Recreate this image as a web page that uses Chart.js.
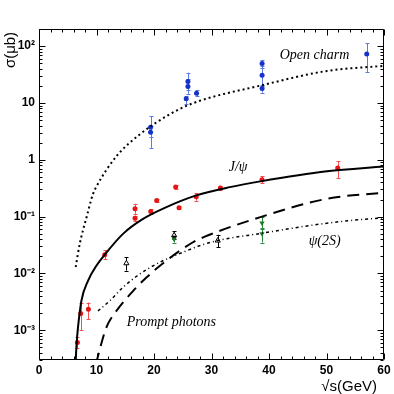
<!DOCTYPE html>
<html><head><meta charset="utf-8">
<script src="https://cdn.jsdelivr.net/npm/chart.js@4/dist/chart.umd.min.js"></script>
<style>html,body{margin:0;padding:0;background:#fff;}canvas{display:block;}</style>
</head><body>
<canvas id="c" width="394" height="394"></canvas>
<script>
// ---- tick labels ----
const xTickValues = [0, 10, 20, 30, 40, 50, 60];
const xTickLabels = ['0', '10', '20', '30', '40', '50', '60'];
const yTickValues = [1e-3, 1e-2, 1e-1, 1, 10, 100];
const yTickLabels = ['10\u207B\u00B3', '10\u207B\u00B2', '10\u207B\u00B9', '1', '10', '10\u00B2'];

// ---- theory curves ----
const charmCurveX = [6.38, 7.08, 8.24, 9.39, 10.0, 13.46, 17.51, 22.73, 26.9, 38.78, 50.09, 60];
const charmCurveY = [0.013, 0.033, 0.095, 0.25, 0.34, 1.15, 2.79, 6.3, 10, 20.5, 36.6, 45];
const jpsiCurveX = [6.36, 6.45, 6.6, 6.78, 7.37, 8.52, 9.98, 11.43, 14.61, 18.09, 22.16, 27.37, 33.2, 38.5, 50.09, 60];
const jpsiCurveY = [2.5e-4, 4e-4, 7e-4, 1.12e-3, 3.3e-3, 7.4e-3, 0.0137, 0.0214, 0.0497, 0.091, 0.147, 0.236, 0.33, 0.417, 0.627, 0.76];
const photonCurveX = [9.9, 10.4, 11.72, 13.46, 16.35, 18.68, 22.16, 26.78, 28.64, 38.5, 50.09, 60];
const photonCurveY = [2.5e-4, 4e-4, 1.12e-3, 2.19e-3, 4.9e-3, 8.5e-3, 0.0168, 0.0354, 0.0435, 0.098, 0.206, 0.265];
const psi2sCurveX = [10.26, 12.3, 14.61, 17.51, 20.99, 25.04, 27.95, 31.08, 38.78, 47.2, 53.0, 60];
const psi2sCurveY = [2.19e-3, 3.3e-3, 5.7e-3, 9.75e-3, 0.0157, 0.0236, 0.0308, 0.038, 0.051, 0.070, 0.083, 0.096];

// ---- data points ----
const charmX  = [19.4, 19.4, 25.6, 25.9, 25.9, 27.4, 38.8, 38.8, 38.8, 57.0];
const charmY  = [3.75, 3.06, 11.9, 23.8, 19.5, 14.8, 49.4, 30.8, 17.9, 72.3];
const charmLo = [2.5, 1.62, 9.4, 17, 14.5, 13, 42, 20, 15.2, 35.2];
const charmHi = [5.8, 4.0, 13.3, 34, 26, 16.8, 57, 45, 20.5, 111.6];

const jpsiX  = [6.68, 7.25, 8.59, 11.43, 16.7, 16.7, 19.43, 20.47, 23.77, 24.35, 27.34, 31.55, 38.78, 51.95];
const jpsiY  = [6.1e-4, 1.97e-3, 2.35e-3, 0.0214, 0.137, 0.094, 0.123, 0.192, 0.332, 0.143, 0.224, 0.319, 0.447, 0.72];
const jpsiLo = [4.8e-4, 1.0e-3, 1.56e-3, 0.0179, 0.112, 0.085, 0.113, 0.178, 0.31, 0.135, 0.19, 0.29, 0.39, 0.48];
const jpsiHi = [7.6e-4, 2.96e-3, 3.08e-3, 0.0259, 0.168, 0.104, 0.134, 0.207, 0.355, 0.152, 0.26, 0.35, 0.52, 0.94];

const psiOpenX  = [15.2, 23.5, 31.08];
const psiOpenY  = [0.0151, 0.047, 0.0379];
const psiOpenLo = [0.0112, 0.040, 0.029];
const psiOpenHi = [0.0192, 0.055, 0.048];

const psiSquareX = [23.5];
const psiSquareY = [0.043];

const psiGreenX  = [23.5, 38.78, 38.78];
const psiGreenY  = [0.040, 0.077, 0.0497];
const psiGreenLo = [0.035, 0.060, 0.035];
const psiGreenHi = [0.045, 0.098, 0.062];

function pts(xs, ys) { return xs.map((x, i) => ({ x: x, y: ys[i] })); }
function errs(lo, hi) { return lo.map((l, i) => [l, hi[i]]); }

const SERIF = '"Liberation Serif", "DejaVu Serif", serif';
const SANS = '"Liberation Sans", Arial, sans-serif';

const errorBarPlugin = {
  id: 'errorBars',
  beforeDatasetsDraw(chart) {
    const ctx = chart.ctx, ys = chart.scales.y, a = chart.chartArea;
    ctx.save();
    ctx.beginPath(); ctx.rect(a.left, a.top, a.right - a.left, a.bottom - a.top); ctx.clip();
    chart.data.datasets.forEach((ds, i) => {
      if (!ds.err) return;
      const meta = chart.getDatasetMeta(i);
      ctx.strokeStyle = ds.errColor; ctx.lineWidth = 1;
      meta.data.forEach((el, j) => {
        const e = ds.err[j];
        const x = Math.round(el.x) + 0.5;
        const y1 = ys.getPixelForValue(e[0]), y2 = ys.getPixelForValue(e[1]);
        ctx.beginPath();
        ctx.moveTo(x, y1); ctx.lineTo(x, y2);
        ctx.moveTo(x - 2, Math.round(y1) + 0.5); ctx.lineTo(x + 2, Math.round(y1) + 0.5);
        ctx.moveTo(x - 2, Math.round(y2) + 0.5); ctx.lineTo(x + 2, Math.round(y2) + 0.5);
        ctx.stroke();
      });
    });
    ctx.restore();
  }
};

const framePlugin = {
  id: 'frame',
  afterDatasetsDraw(chart) {
    const ctx = chart.ctx, a = chart.chartArea, xs = chart.scales.x, ys = chart.scales.y;
    ctx.save();
    ctx.strokeStyle = '#000'; ctx.lineWidth = 1;
    const L = Math.round(a.left) + 0.5, R = Math.round(a.right) - 0.5;
    const T = Math.round(a.top) + 0.5, B = Math.round(a.bottom) - 0.5;
    ctx.beginPath();
    ctx.rect(L, T, R - L, B - T);
    // x ticks
    for (let v = 0; v <= 60; v += 2) {
      const px = Math.round(xs.getPixelForValue(v)) + 0.5;
      const len = (v % 10 === 0) ? 6 : 3;
      ctx.moveTo(px, B); ctx.lineTo(px, B - len);
      ctx.moveTo(px, T); ctx.lineTo(px, T + len);
    }
    // y ticks
    for (let e = -4; e <= 2; e++) {
      for (let m = 1; m <= 9; m++) {
        const v = m * Math.pow(10, e);
        if (v < ys.min || v > ys.max) continue;
        const py = Math.round(ys.getPixelForValue(v)) + 0.5;
        const len = (m === 1) ? 6 : 3;
        ctx.moveTo(L, py); ctx.lineTo(L + len, py);
        ctx.moveTo(R, py); ctx.lineTo(R - len, py);
      }
    }
    ctx.stroke();

    // annotations
    ctx.fillStyle = '#000';
    ctx.textBaseline = 'middle'; ctx.textAlign = 'left';
    ctx.font = 'italic 14px ' + SERIF;
    const put = (t, x, y) => ctx.fillText(t, xs.getPixelForValue(x), ys.getPixelForValue(y));
    put('Open charm', 41.86, 69.3);
    put('J/\u03C8', 33.0, 0.73);
    put('\u03C8(2S)', 46.9, 0.0373);
    put('Prompt photons', 15.25, 1.38e-3);

    // axis titles
    ctx.font = '15px ' + SANS;
    ctx.textAlign = 'right'; ctx.textBaseline = 'alphabetic';
    ctx.fillText('\u221As(GeV)', 377, 391);
    ctx.save();
    ctx.translate(15, 50); ctx.rotate(-Math.PI / 2);
    ctx.textAlign = 'center'; ctx.textBaseline = 'alphabetic';
    ctx.fillText('\u03C3(\u03BCb)', 0, 0);
    ctx.restore();
    ctx.restore();
  }
};

const curve = (xs, ys, dash, w) => ({
  data: pts(xs, ys), showLine: true, pointRadius: 0, borderColor: '#000',
  borderWidth: w, borderDash: dash, cubicInterpolationMode: 'monotone', fill: false
});

new Chart(document.getElementById('c').getContext('2d'), {
  type: 'scatter',
  data: {
    datasets: [
      curve(charmCurveX, charmCurveY, [2, 3], 2),
      curve(jpsiCurveX, jpsiCurveY, [], 2),
      curve(photonCurveX, photonCurveY, [12, 7], 2),
      curve(psi2sCurveX, psi2sCurveY, [3, 3, 1, 3], 1.5),
      { data: pts(charmX, charmY), err: errs(charmLo, charmHi), errColor: 'rgb(90,120,230)',
        pointStyle: 'circle', pointRadius: 2.5, backgroundColor: 'rgb(20,50,200)', borderColor: 'rgb(20,50,200)', borderWidth: 0 },
      { data: pts(jpsiX, jpsiY), err: errs(jpsiLo, jpsiHi), errColor: 'rgb(240,80,80)',
        pointStyle: 'circle', pointRadius: 2.5, backgroundColor: 'rgb(230,20,20)', borderColor: 'rgb(230,20,20)', borderWidth: 0 },
      { data: pts(psiGreenX, psiGreenY), err: errs(psiGreenLo, psiGreenHi), errColor: 'rgb(40,140,60)',
        pointStyle: 'triangle', rotation: 180, pointRadius: 3, backgroundColor: 'rgb(30,120,40)', borderColor: 'rgb(30,120,40)', borderWidth: 0 },
      { data: pts(psiSquareX, psiSquareY),
        pointStyle: 'rect', pointRadius: 2.5, backgroundColor: '#000', borderColor: '#000', borderWidth: 0 },
      { data: pts(psiOpenX, psiOpenY), err: errs(psiOpenLo, psiOpenHi), errColor: '#000',
        pointStyle: 'triangle', pointRadius: 3, backgroundColor: '#fff', borderColor: '#000', borderWidth: 1 }
    ]
  },
  options: {
    responsive: false, animation: false, events: [],
    layout: { padding: { top: 29, right: 10, left: 0, bottom: 0 } },
    plugins: { legend: { display: false }, tooltip: { enabled: false } },
    scales: {
      x: {
        type: 'linear', min: 0, max: 60,
        grid: { display: false, drawTicks: false }, border: { display: false },
        afterFit: s => { s.height = 34; },
        afterBuildTicks: s => { s.ticks = xTickValues.map(v => ({ value: v })); },
        ticks: { padding: 3, color: '#000', font: { family: SANS, size: 12, weight: 'bold' },
          maxRotation: 0, autoSkip: false,
          callback: (v) => { const i = xTickValues.indexOf(v); return i >= 0 ? xTickLabels[i] : ''; } }
      },
      y: {
        type: 'logarithmic', min: 3e-4, max: 200,
        grid: { display: false, drawTicks: false }, border: { display: false },
        afterFit: s => { s.width = 39; },
        afterBuildTicks: s => { s.ticks = yTickValues.map(v => ({ value: v })); },
        ticks: { padding: 4, color: '#000', font: { family: SANS, size: 12, weight: 'bold' },
          autoSkip: false,
          callback: (v) => { const i = yTickValues.findIndex(t => Math.abs(t - v) / t < 1e-6); return i >= 0 ? yTickLabels[i] : ''; } }
      }
    }
  },
  plugins: [errorBarPlugin, framePlugin]
});
</script>
</body></html>
